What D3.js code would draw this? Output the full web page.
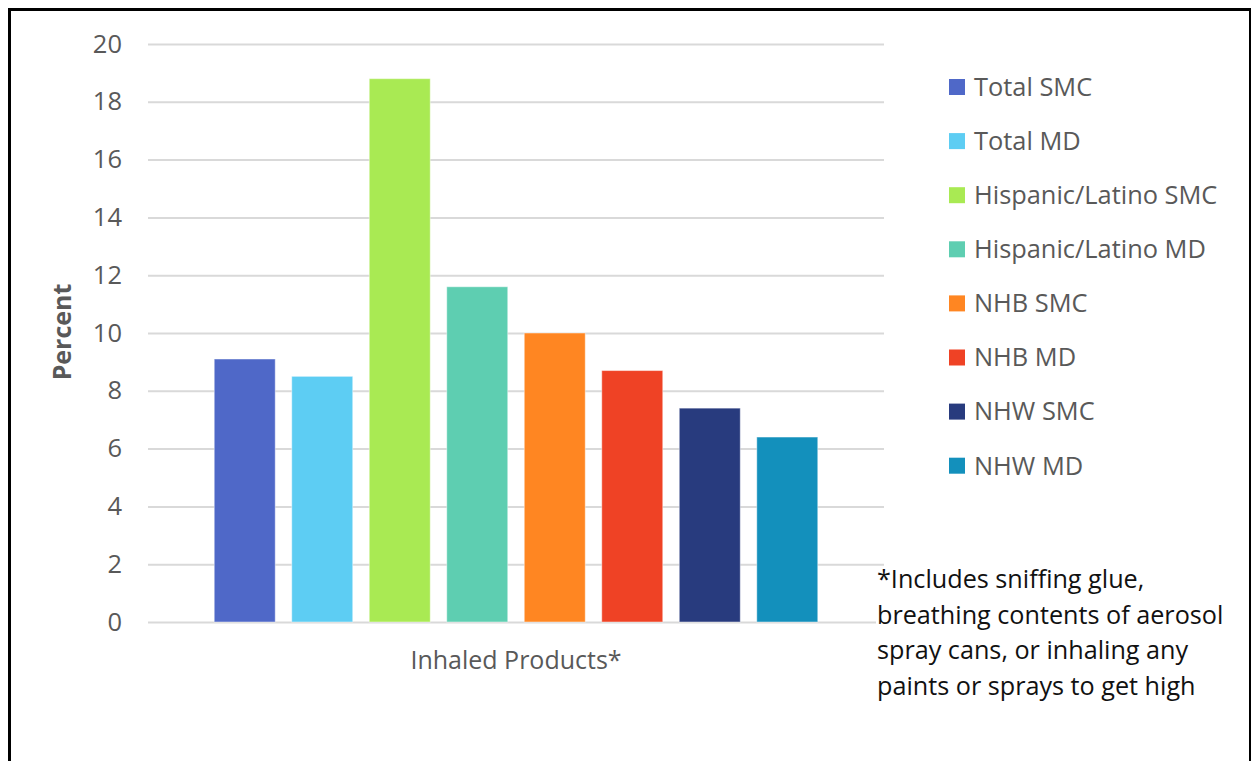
<!DOCTYPE html>
<html>
<head>
<meta charset="utf-8">
<script src="https://cdn.jsdelivr.net/npm/d3@7"></script>
<style>
  html, body { margin: 0; padding: 0; background: #fff; }
  svg { display: block; }
  text { font-family: "Open Sans", "Noto Sans", sans-serif; }
</style>
</head>
<body>
<svg id="chart" width="1254" height="761"></svg>
<script>
// Category on the x axis
const categories = ["Inhaled Products*"];

// One bar per group, percent reporting use
const seriesNames = [
  "Total SMC", "Total MD",
  "Hispanic/Latino SMC", "Hispanic/Latino MD",
  "NHB SMC", "NHB MD",
  "NHW SMC", "NHW MD"
];
const seriesValues = [9.1, 8.5, 18.8, 11.6, 10.0, 8.7, 7.4, 6.4];
const seriesColors = [
  "#4F68C8", "#5DCDF3", "#A9EA53", "#5ECEB1",
  "#FF8622", "#EF4225", "#283B7E", "#1390BC"
];

const yTicks = [0, 2, 4, 6, 8, 10, 12, 14, 16, 18, 20];
const yTitle = "Percent";
const footnoteLines = [
  "*Includes sniffing glue,",
  "breathing contents of aerosol",
  "spray cans, or inhaling any",
  "paints or sprays to get high"
];

const svg = d3.select("#chart");

// Plot area
const plot = { left: 148, right: 884, top: 44, bottom: 622 };

const y = d3.scaleLinear().domain([0, 20]).range([plot.bottom, plot.top]);

const x0 = d3.scaleBand()
  .domain(categories)
  .range([plot.left, plot.right])
  .paddingInner(0)
  .paddingOuter(0.0935);

const x1 = d3.scaleBand()
  .domain(seriesNames)
  .range([0, x0.bandwidth()])
  .paddingInner(0.213)
  .paddingOuter(0.1065);

// Gridlines and value labels
const yAxis = d3.axisLeft(y)
  .tickValues(yTicks)
  .tickSize(-(plot.right - plot.left))
  .tickPadding(26)
  .tickFormat(d3.format("d"));

const gy = svg.append("g")
  .attr("transform", `translate(${plot.left},0)`)
  .call(yAxis);
gy.select(".domain").remove();
gy.selectAll(".tick line")
  .attr("stroke", "#d9d9d9")
  .attr("stroke-width", 2);
gy.selectAll(".tick text")
  .attr("fill", "#595959")
  .style("font-size", "25.5px");

// Bars
const rows = seriesNames.map((name, i) => ({ name, value: seriesValues[i], color: seriesColors[i] }));

svg.append("g")
  .attr("transform", `translate(${x0(categories[0])},0)`)
  .selectAll("rect")
  .data(rows)
  .join("rect")
  .attr("x", d => x1(d.name))
  .attr("y", d => y(d.value))
  .attr("width", x1.bandwidth())
  .attr("height", d => y(0) - y(d.value))
  .attr("fill", d => d.color)
  .attr("stroke", "#ffffff")
  .attr("stroke-opacity", 0.45)
  .attr("stroke-width", 1);

// Category axis label
const xAxis = d3.axisBottom(x0).tickSize(0).tickPadding(29);
const gx = svg.append("g")
  .attr("transform", `translate(0,${plot.bottom})`)
  .call(xAxis);
gx.select(".domain").remove();
gx.selectAll(".tick text")
  .attr("fill", "#595959")
  .style("font-size", "25px");

// Y axis title
svg.append("text")
  .attr("transform", `translate(71,332) rotate(-90)`)
  .attr("text-anchor", "middle")
  .attr("fill", "#595959")
  .style("font-size", "25px")
  .style("font-weight", "bold")
  .text(yTitle);

// Legend
const legend = svg.append("g").attr("transform", "translate(949,87)");
const item = legend.selectAll("g")
  .data(rows)
  .join("g")
  .attr("transform", (d, i) => `translate(0,${i * 54.1})`);
item.append("rect")
  .attr("x", 0)
  .attr("y", -8)
  .attr("width", 16)
  .attr("height", 16)
  .attr("fill", d => d.color);
item.append("text")
  .attr("x", 25)
  .attr("y", 0)
  .attr("dy", "0.35em")
  .attr("fill", "#595959")
  .style("font-size", "25.4px")
  .text(d => d.name);

// Footnote text box
const note = svg.append("g").attr("transform", "translate(876,568)");
note.append("rect")
  .attr("x", 0).attr("y", 0)
  .attr("width", 370).attr("height", 150)
  .attr("fill", "#fff");
note.selectAll("text")
  .data(footnoteLines)
  .join("text")
  .attr("x", 1)
  .attr("y", (d, i) => 20 + i * 35.7)
  .attr("fill", "#111")
  .style("font-size", "25.2px")
  .text(d => d);

// Outer frame
svg.append("path")
  .attr("d", "M9.5,770 L9.5,9.5 L1250,9.5")
  .attr("fill", "none")
  .attr("stroke", "#000")
  .attr("stroke-width", 3);
svg.append("line")
  .attr("x1", 1250).attr("x2", 1250)
  .attr("y1", 8).attr("y2", 770)
  .attr("stroke", "#000")
  .attr("stroke-width", 2);
</script>
</body>
</html>
